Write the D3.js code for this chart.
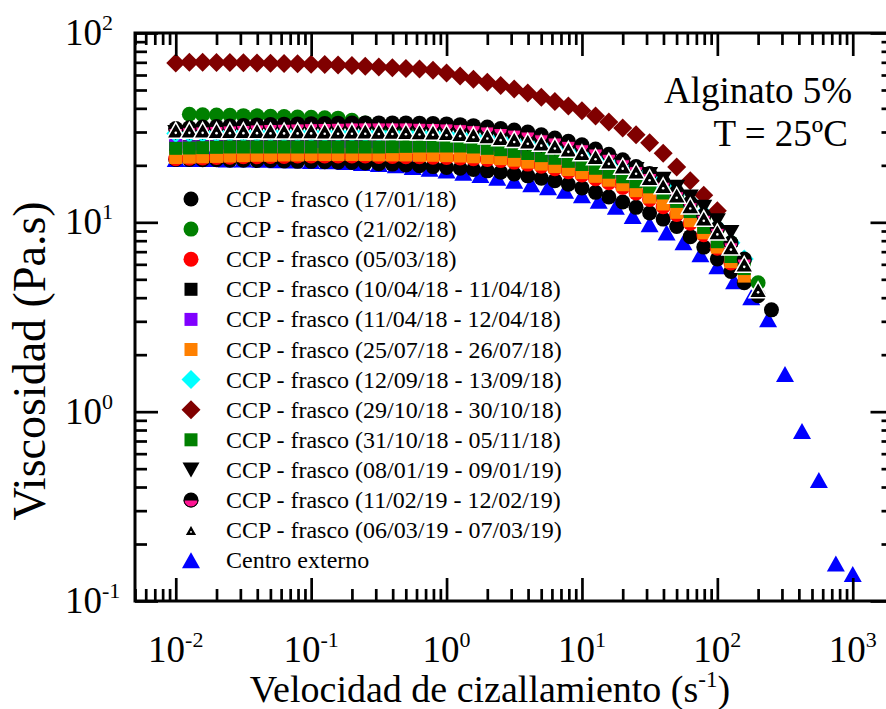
<!DOCTYPE html>
<html>
<head>
<meta charset="utf-8">
<script src="https://cdnjs.cloudflare.com/ajax/libs/d3/7.8.5/d3.min.js"></script>
<style>
body { margin: 0; background: #fff; }
svg { display: block; font-family: "Liberation Serif", "Times New Roman", serif; }
</style>
</head>
<body>
<svg width="886" height="709"></svg>
<script>
// shear rate grid of the CCP runs (10 points per decade) and of the external lab (8 per decade)
var shearRate = [0.01, 0.0126, 0.0158, 0.02, 0.0251, 0.0316, 0.0398, 0.0501, 0.0631, 0.0794,
	0.1, 0.126, 0.158, 0.2, 0.251, 0.316, 0.398, 0.501, 0.631, 0.794,
	1, 1.26, 1.58, 2, 2.51, 3.16, 3.98, 5.01, 6.31, 7.94,
	10, 12.6, 15.8, 20, 25.1, 31.6, 39.8, 50.1, 63.1, 79.4,
	100, 126, 158, 200, 251];
var shearRateExt = [0.01, 0.0133, 0.0178, 0.0237, 0.0316, 0.0422, 0.0562, 0.075,
	0.1, 0.133, 0.178, 0.237, 0.316, 0.422, 0.562, 0.75,
	1, 1.33, 1.78, 2.37, 3.16, 4.22, 5.62, 7.5,
	10, 13.3, 17.8, 23.7, 31.6, 42.2, 56.2, 75,
	100, 133, 178, 237, 316, 422, 562, 750, 1000];

// viscosity (Pa.s), one value per shearRate entry (null = no point)
var visc17Jan18 = [21.5, 21.5, 21.4, 21.4, 21.3, 21.3, 21.2, 21.2, 21.1, 21.0,
	21.0, 20.9, 20.8, 20.7, 20.6, 20.4, 20.3, 20.1, 19.9, 19.7,
	19.5, 19.3, 19.0, 18.7, 18.4, 18.0, 17.6, 17.1, 16.6, 15.9,
	15.2, 14.4, 13.6, 12.8, 12.0, 11.2, 10.4, 9.5, 8.4, 7.4,
	6.4, 5.5, 4.8, 4.1, 3.45];
var visc21Feb18 = [null, 37.2, 37.0, 36.9, 36.8, 36.6, 36.5, 36.3, 36.2, 36.0,
	35.9, 35.7, 35.5, 34.6, 33.5, 32.2, 31.0, 30.0, 29.2, 28.6,
	28.1, 27.6, 27.1, 26.6, 26.1, 25.6, 25.0, 24.4, 23.7, 23.0,
	22.2, 21.3, 20.3, 19.2, 18.0, 16.8, 15.4, 13.9, 12.3, 10.7,
	9.2, 7.8, 6.3, 4.8, null];
var visc05Mar18 = [21.7, 21.8, 21.9, 22.0, 22.1, 22.2, 22.2, 22.3, 22.3, 22.4,
	22.4, 22.4, 22.4, 22.4, 22.4, 22.3, 22.3, 22.2, 22.2, 22.1,
	22.0, 21.9, 21.7, 21.5, 21.2, 20.8, 20.3, 19.8, 19.2, 18.5,
	17.8, 17.0, 16.2, 15.3, 14.3, 13.2, 12.1, 11.0, 9.9, 8.6,
	7.3, 6.1, null, null, null];
var visc10Apr18 = [25.1, 25.1, 25.1, 25.1, 25.1, 25.1, 25.1, 25.1, 25.1, 25.1,
	25.1, 25.1, 25.1, 25.1, 25.1, 25.1, 25.1, 25.1, 25.1, 25.1,
	25.3, 25.3, 25.0, 24.6, 24.2, 23.7, 23.1, 22.5, 21.8, 21.0,
	20.2, 19.3, 18.4, 17.4, 16.4, 15.4, 14.3, 12.9, 11.4, 9.4,
	7.9, 6.6, null, null, null];
var visc11Apr18 = [26.5, 25.0, 25.0, 25.0, 25.0, 25.0, 25.0, 25.0, 25.0, 25.0,
	25.0, 25.0, 25.0, 25.0, 25.0, 25.0, 25.1, 25.2, 25.3, 25.3,
	25.3, 25.3, 25.0, 24.6, 24.2, 23.7, 23.1, 22.5, 21.8, 21.0,
	20.2, 19.3, 18.4, 17.4, 16.4, 15.4, 14.3, 12.9, 11.4, 9.4,
	7.9, 6.6, null, null, null];
var visc25Jul18 = [22.0, 22.1, 22.2, 22.3, 22.4, 22.5, 22.6, 22.6, 22.7, 22.7,
	22.8, 22.8, 22.8, 22.8, 22.8, 22.7, 22.7, 22.7, 22.6, 22.6,
	22.5, 22.4, 22.2, 22.0, 21.7, 21.3, 20.8, 20.3, 19.7, 19.0,
	18.3, 17.5, 16.7, 15.8, 14.7, 13.6, 12.5, 11.3, 10.2, 8.8,
	7.4, 6.2, 5.2, null, null];
var visc12Sep18 = [29.5, 29.5, 29.5, 29.5, 29.5, 29.5, 29.5, 29.5, 29.5, 29.5,
	29.5, 29.5, 29.5, 29.5, 29.5, 29.5, 29.4, 29.4, 29.3, 29.2,
	29.0, 28.7, 28.3, 27.8, 27.2, 26.6, 25.9, 25.2, 24.4, 23.5,
	22.6, 21.6, 20.5, 19.4, 18.2, 17.0, 15.7, 14.3, 12.8, 11.1,
	9.4, 7.8, 6.4, null, null];
var visc29Oct18 = [69.5, 70.0, 70.0, 69.9, 69.8, 69.6, 69.4, 69.2, 69.0, 68.7,
	68.4, 68.1, 67.7, 67.3, 66.8, 66.2, 65.5, 65.0, 64.5, 63.5,
	61.5, 59.2, 57.0, 54.9, 52.8, 50.6, 48.2, 45.8, 43.5, 41.2,
	38.8, 36.4, 33.9, 31.5, 29.0, 26.3, 23.2, 19.6, 16.6, 13.9,
	11.5, null, null, null, null];
var visc31Oct18 = [24.6, 24.7, 24.8, 24.9, 25.0, 25.0, 25.0, 25.0, 25.0, 25.0,
	25.0, 25.0, 25.0, 25.0, 25.0, 25.0, 25.1, 25.2, 25.3, 25.3,
	25.3, 25.3, 25.0, 24.6, 24.2, 23.7, 23.1, 22.5, 21.8, 21.0,
	20.2, 19.3, 18.4, 17.4, 16.4, 15.4, 14.3, 12.9, 11.4, 9.4,
	7.9, 6.6, 5.7, null, null];
var visc08Jan19 = [29.8, 29.8, 29.8, 29.8, 29.8, 29.8, 29.8, 29.8, 29.8, 29.8,
	29.8, 29.8, 29.8, 29.8, 29.8, 29.8, 29.7, 29.7, 29.6, 29.5,
	29.3, 29.0, 28.6, 28.1, 27.5, 26.8, 26.1, 25.4, 24.6, 23.8,
	22.9, 22.0, 21.0, 20.0, 19.0, 17.9, 16.9, 15.3, 13.6, 12.0,
	10.2, 8.85, null, null, null];
var visc11Feb19 = [31.3, 31.6, 31.9, 32.1, 32.3, 32.5, 32.7, 32.9, 33.0, 33.1,
	33.2, 33.3, 33.4, 33.5, 33.5, 33.5, 33.5, 33.5, 33.4, 33.3,
	33.1, 32.8, 32.4, 31.9, 31.3, 30.7, 30.0, 29.0, 27.9, 26.8,
	25.7, 24.4, 22.9, 21.4, 19.7, 18.1, 16.3, 14.5, 12.7, 10.9,
	9.3, 7.8, 6.4, null, null];
var visc06Mar19 = [30.6, 30.6, 30.6, 30.5, 30.5, 30.5, 30.5, 30.4, 30.4, 30.4,
	30.4, 30.3, 30.3, 30.3, 30.3, 30.2, 30.2, 30.1, 30.0, 29.9,
	29.7, 29.4, 29.0, 28.6, 28.0, 27.4, 26.8, 26.2, 25.3, 24.3,
	23.3, 22.2, 21.0, 19.8, 18.6, 17.2, 15.6, 13.9, 12.2, 10.5,
	8.9, 7.4, 6.0, 4.4, null];
var viscExterno = [21.6, 21.6, 21.6, 21.5, 21.5, 21.4, 21.3, 21.2,
	21.1, 21.0, 20.8, 20.6, 20.3, 20.0, 19.6, 19.2,
	18.8, 18.3, 17.8, 17.2, 16.6, 15.9, 15.3, 14.7,
	13.9, 13.0, 12.1, 10.8, 9.76, 8.85, 7.84, 6.78,
	5.86, 4.89, 4.02, 3.08, 1.58, 0.79, 0.435, 0.158, 0.139];

var seriesLabels = ["CCP - frasco (17/01/18)", "CCP - frasco (21/02/18)", "CCP - frasco (05/03/18)",
	"CCP - frasco (10/04/18 - 11/04/18)", "CCP - frasco (11/04/18 - 12/04/18)", "CCP - frasco (25/07/18 - 26/07/18)",
	"CCP - frasco (12/09/18 - 13/09/18)", "CCP - frasco (29/10/18 - 30/10/18)", "CCP - frasco (31/10/18 - 05/11/18)",
	"CCP - frasco (08/01/19 - 09/01/19)", "CCP - frasco (11/02/19 - 12/02/19)", "CCP - frasco (06/03/19 - 07/03/19)",
	"Centro externo"];

var series = [
	{name: seriesLabels[0], xs: shearRate, ys: visc17Jan18, shape: "circle", color: "#000000"},
	{name: seriesLabels[1], xs: shearRate, ys: visc21Feb18, shape: "circle", color: "#008000"},
	{name: seriesLabels[2], xs: shearRate, ys: visc05Mar18, shape: "circle", color: "#ff0000"},
	{name: seriesLabels[3], xs: shearRate, ys: visc10Apr18, shape: "square", color: "#000000"},
	{name: seriesLabels[4], xs: shearRate, ys: visc11Apr18, shape: "square", color: "#8000ff"},
	{name: seriesLabels[5], xs: shearRate, ys: visc25Jul18, shape: "square", color: "#ff8000"},
	{name: seriesLabels[6], xs: shearRate, ys: visc12Sep18, shape: "diamond", color: "#00ffff"},
	{name: seriesLabels[7], xs: shearRate, ys: visc29Oct18, shape: "diamond", color: "#800000"},
	{name: seriesLabels[8], xs: shearRate, ys: visc31Oct18, shape: "square", color: "#008000"},
	{name: seriesLabels[9], xs: shearRate, ys: visc08Jan19, shape: "triangleDown", color: "#000000"},
	{name: seriesLabels[10], xs: shearRate, ys: visc11Feb19, shape: "halfCircle", color: "#ff1493"},
	{name: seriesLabels[11], xs: shearRate, ys: visc06Mar19, shape: "triangleDot", color: "#000000"},
	{name: seriesLabels[12], xs: shearRateExt, ys: viscExterno, shape: "triangleUp", color: "#0000ff"}
];

var svg = d3.select("svg");
// note: "top" is taken by window.top, so the frame edges get their own names
var frameL = 135, frameR = 893.5, frameT = 33, frameB = 601;
var x = d3.scaleLog().domain([0.005, 2000]).range([frameL, frameR]);
var y = d3.scaleLog().domain([0.1, 100]).range([frameB, frameT]);

function tri(w, h, dir) {
	return "M0," + (-dir * h / 2) + "L" + (w / 2) + "," + (dir * h / 2) + "L" + (-w / 2) + "," + (dir * h / 2) + "Z";
}

function drawMarker(g, shape, color, k) {
	if (shape == "circle") {
		g.append("circle").attr("r", 7.5 * k).attr("fill", color);
	} else if (shape == "square") {
		g.append("rect").attr("x", -6.5 * k).attr("y", -6.5 * k).attr("width", 13 * k).attr("height", 13 * k).attr("fill", color);
	} else if (shape == "diamond") {
		var r = 9.5 * k;
		g.append("path").attr("d", "M0," + (-r) + "L" + r + ",0L0," + r + "L" + (-r) + ",0Z").attr("fill", color);
	} else if (shape == "triangleDown") {
		g.append("path").attr("d", tri(17 * k, 15 * k, -1)).attr("fill", color);
	} else if (shape == "triangleUp") {
		g.append("path").attr("d", tri(18 * k, 16 * k, 1)).attr("fill", color);
	} else if (shape == "halfCircle") {
		var rr = 7.5 * k;
		g.append("circle").attr("r", rr).attr("fill", "#000");
		g.append("path").attr("d", "M" + (-rr + 0.5) + ",0A" + (rr - 0.5) + "," + (rr - 0.5) + " 0 0 0 " + (rr - 0.5) + ",0Z")
			.attr("fill", color).attr("stroke", "#000").attr("stroke-width", 1);
	} else if (shape == "triangleDot") {
		g.append("path").attr("d", tri(18 * k, 16 * k, 1)).attr("fill", "#000").attr("stroke", "#fff").attr("stroke-width", 1.5);
		g.append("circle").attr("cy", 2.5 * k).attr("r", 1.3 * k).attr("fill", "#fff");
	}
}

// data points: external centre underneath, then the CCP runs in legend order
var plot = svg.append("g").attr("class", "points");
var drawOrder = [12, 0, 1, 2, 3, 4, 5, 6, 7, 8, 9, 10, 11];
drawOrder.forEach(function(si) {
	var s = series[si];
	var pts = s.xs.map(function(d, i) { return {x: d, y: s.ys[i]}; }).filter(function(d) { return d.y != null; });
	plot.append("g").selectAll("g")
		.data(pts)
		.enter().append("g")
		.attr("transform", function(d) { return "translate(" + x(d.x) + "," + y(d.y) + ")"; })
		.each(function() { drawMarker(d3.select(this), s.shape, s.color, 1); });
});

// axes: ticks pointing inward on all four sides
var xTicks = x.ticks(), yTicks = y.ticks();
function isMajor(d) { return Math.abs(Math.log10(d) - Math.round(Math.log10(d))) < 1e-6; }
var xMajor = xTicks.filter(isMajor), xMinor = xTicks.filter(function(d) { return !isMajor(d); });
var yMajor = yTicks.filter(isMajor), yMinor = yTicks.filter(function(d) { return !isMajor(d); });

function addAxis(axis, tx, ty) {
	var g = svg.append("g").attr("transform", "translate(" + tx + "," + ty + ")").call(axis);
	g.select(".domain").remove();
	g.selectAll("line").attr("stroke", "#000").attr("stroke-width", 2.7);
}
[[xMajor, 23], [xMinor, 12]].forEach(function(t) {
	addAxis(d3.axisBottom(x).tickValues(t[0]).tickSize(-t[1]).tickFormat(""), 0, frameB);
	addAxis(d3.axisTop(x).tickValues(t[0]).tickSize(-t[1]).tickFormat(""), 0, frameT);
});
[[yMajor, 23], [yMinor, 12]].forEach(function(t) {
	addAxis(d3.axisLeft(y).tickValues(t[0]).tickSize(-t[1]).tickFormat(""), frameL, 0);
	addAxis(d3.axisRight(y).tickValues(t[0]).tickSize(-t[1]).tickFormat(""), frameR, 0);
});

svg.append("rect")
	.attr("x", frameL).attr("y", frameT)
	.attr("width", frameR - frameL).attr("height", frameB - frameT)
	.attr("fill", "none").attr("stroke", "#000").attr("stroke-width", 3);

// tick labels as 10 with a superscript exponent
var xl = svg.append("g").selectAll("text").data(xMajor).enter().append("text")
	.attr("x", function(d) { return x(d); })
	.attr("y", 662)
	.attr("text-anchor", "middle")
	.attr("font-size", 37);
xl.append("tspan").text("10");
xl.append("tspan").attr("dy", -15).attr("font-size", 22).text(function(d) { return Math.round(Math.log10(d)); });

var yl = svg.append("g").selectAll("g").data(yMajor).enter().append("g");
yl.append("text")
	.attr("x", 102).attr("y", function(d) { return y(d) + 12; })
	.attr("text-anchor", "end").attr("font-size", 37).text("10");
yl.append("text")
	.attr("x", 102).attr("y", function(d) { return y(d) - 3; })
	.attr("font-size", 22).text(function(d) { return Math.round(Math.log10(d)); });

// axis titles
var xt = svg.append("text").attr("x", 490).attr("y", 702).attr("text-anchor", "middle").attr("font-size", 38);
xt.append("tspan").text("Velocidad de cizallamiento (s");
xt.append("tspan").attr("dy", -15).attr("font-size", 23).text("-1");
xt.append("tspan").attr("dy", 15).text(")");

svg.append("text")
	.attr("transform", "translate(45," + 361 + ") rotate(-90)")
	.attr("text-anchor", "middle").attr("font-size", 46)
	.text("Viscosidad (Pa.s)");

// sample annotation
svg.append("text").attr("x", 852).attr("y", 103).attr("text-anchor", "end").attr("font-size", 37).text("Alginato 5%");
svg.append("text").attr("x", 848).attr("y", 146).attr("text-anchor", "end").attr("font-size", 37).text("T = 25ºC");

// legend
var legend = svg.append("g").selectAll("g")
	.data(series)
	.enter().append("g")
	.attr("transform", function(d, i) { return "translate(191," + (199 + i * 30.1) + ")"; });
legend.each(function(d, i) {
	var m = d3.select(this).append("g");
	drawMarker(m, d.shape, d.color, d.shape == "triangleDot" ? 0.72 : 1);
});
legend.append("text")
	.attr("x", 35).attr("y", 8)
	.attr("font-size", 24)
	.text(function(d) { return d.name; });
</script>
</body>
</html>
